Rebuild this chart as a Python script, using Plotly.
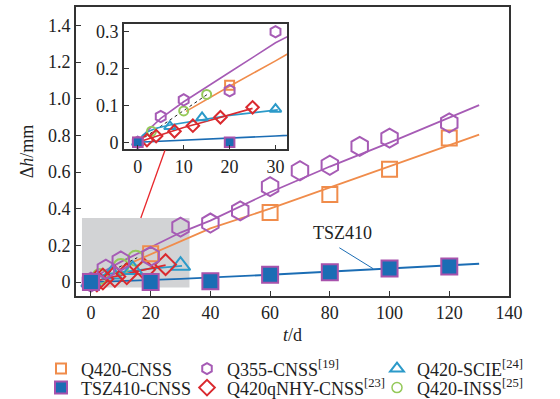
import plotly.graph_objects as go

# ---------------- data ----------------
# measured points
q420_t = [0, 20, 60, 80, 100, 120]
q420_dh = [0, 0.155, 0.38, 0.478, 0.615, 0.786]

q355_t = [0, 5, 10, 20, 30, 40, 50, 60, 70, 80, 90, 100, 120]
q355_dh = [0, 0.07, 0.115, 0.14, 0.3, 0.322, 0.388, 0.52, 0.607, 0.637, 0.74, 0.785, 0.868]

scie_t = [0, 7, 14, 30]
scie_dh = [0, 0.043, 0.067, 0.09]

tsz_t = [0, 20, 40, 60, 80, 100, 120]
tsz_dh = [0, 0, 0.005, 0.04, 0.054, 0.074, 0.085]

nhy_t = [2, 4, 8, 12, 18, 25]
nhy_dh = [0.006, 0.017, 0.03, 0.045, 0.068, 0.095]

inss_t = [3, 10, 15]
inss_dh = [0.03, 0.085, 0.13]

# fitted curves
q355_fit_t = [0, 2, 5, 10, 20, 30, 40, 60, 80, 100, 130]
q355_fit_dh = [0, 0.03, 0.065, 0.11, 0.19, 0.27, 0.335, 0.49, 0.63, 0.76, 0.965]

q420_fit_t = [10.5, 20, 30, 40, 60, 80, 100, 130]
q420_fit_dh = [0.084, 0.152, 0.221, 0.293, 0.40, 0.515, 0.631, 0.804]

scie_fit_t = [0, 1, 2, 4, 7, 14, 20, 30.5]
scie_fit_dh = [0, 0.018, 0.028, 0.038, 0.047, 0.062, 0.073, 0.088]

nhy_fit_t = [0, 5, 10, 15, 20, 25]
nhy_fit_dh = [0, 0.02, 0.04, 0.057, 0.074, 0.092]

tsz_fit_t = [0, 30, 60, 90, 130]
tsz_fit_dh = [0, 0.017, 0.04, 0.065, 0.1]

inss_fit_t = [0.5, 15.5]
inss_fit_dh = [0.005, 0.133]

x_ticks = [0, 20, 40, 60, 80, 100, 120, 140]
y_ticks = [0, 0.2, 0.4, 0.6, 0.8, 1.0, 1.2, 1.4]
y_ticktext = ["0", "0.2", "0.4", "0.6", "0.8", "1.0", "1.2", "1.4"]
x2_ticks = [0, 10, 20, 30]
y2_ticks = [0, 0.1, 0.2, 0.3]
y2_ticktext = ["0", "0.1", "0.2", "0.3"]

names = ["Q420-CNSS", "TSZ410-CNSS", "Q355-CNSS<sup>[19]</sup>",
         "Q420qNHY-CNSS<sup>[23]</sup>", "Q420-SCIE<sup>[24]</sup>", "Q420-INSS<sup>[25]</sup>"]

# ---------------- styles ----------------
ORANGE = "#F08C4B"
PURPLE = "#A65BB5"
RED = "#DA2A2F"
CYAN = "#2C9AC9"
BLUE = "#1B6DB4"
GREEN = "#95C95A"
TSZ_EDGE = "#A852AC"
AX = "#333333"
FONT = "Liberation Serif"
FS = 18
W, H = 560, 399

fig = go.Figure()


def add_set(xa, ya, big):
    s = 1.0 if big else 0.6
    lw = 1.8 if big else 1.6
    # fit lines
    fig.add_trace(go.Scatter(x=q355_fit_t, y=q355_fit_dh, mode="lines", line=dict(color=PURPLE, width=lw),
                             xaxis=xa, yaxis=ya, showlegend=False, hoverinfo="skip"))
    fig.add_trace(go.Scatter(x=q420_fit_t, y=q420_fit_dh, mode="lines", line=dict(color=ORANGE, width=lw),
                             xaxis=xa, yaxis=ya, showlegend=False, hoverinfo="skip"))
    fig.add_trace(go.Scatter(x=inss_fit_t, y=inss_fit_dh, mode="lines", line=dict(color="#222", width=1, dash="dot"),
                             xaxis=xa, yaxis=ya, showlegend=False, hoverinfo="skip"))
    fig.add_trace(go.Scatter(x=scie_fit_t, y=scie_fit_dh, mode="lines", line=dict(color=CYAN, width=lw),
                             xaxis=xa, yaxis=ya, showlegend=False, hoverinfo="skip"))
    fig.add_trace(go.Scatter(x=nhy_fit_t, y=nhy_fit_dh, mode="lines", line=dict(color=RED, width=lw),
                             xaxis=xa, yaxis=ya, showlegend=False, hoverinfo="skip"))
    fig.add_trace(go.Scatter(x=tsz_fit_t, y=tsz_fit_dh, mode="lines", line=dict(color=BLUE, width=lw),
                             xaxis=xa, yaxis=ya, showlegend=False, hoverinfo="skip"))
    # markers
    fig.add_trace(go.Scatter(x=inss_t, y=inss_dh, mode="markers",
                             marker=dict(symbol="circle-open", size=15 * s, color=GREEN, line=dict(width=2)),
                             xaxis=xa, yaxis=ya, showlegend=False))
    fig.add_trace(go.Scatter(x=scie_t, y=scie_dh, mode="markers",
                             marker=dict(symbol="triangle-up-open", size=17 * s, color=CYAN, line=dict(width=2)),
                             xaxis=xa, yaxis=ya, showlegend=False))
    fig.add_trace(go.Scatter(x=nhy_t, y=nhy_dh, mode="markers",
                             marker=dict(symbol="diamond-open", size=16 * s, color=RED, line=dict(width=2)),
                             xaxis=xa, yaxis=ya, showlegend=False))
    fig.add_trace(go.Scatter(x=q420_t, y=q420_dh, mode="markers",
                             marker=dict(symbol="square-open", size=15 * s, color=ORANGE, line=dict(width=2)),
                             xaxis=xa, yaxis=ya, showlegend=False))
    fig.add_trace(go.Scatter(x=q355_t, y=q355_dh, mode="markers",
                             marker=dict(symbol="hexagon-open", size=19 * s, color=PURPLE, line=dict(width=2)),
                             xaxis=xa, yaxis=ya, showlegend=False))
    fig.add_trace(go.Scatter(x=tsz_t, y=tsz_dh, mode="markers",
                             marker=dict(symbol="square", size=16 * s, color=BLUE,
                                         line=dict(width=2, color=TSZ_EDGE)),
                             xaxis=xa, yaxis=ya, showlegend=False))


add_set("x", "y", True)
add_set("x2", "y2", False)

# legend entries: one legend per entry, placed in a 3x2 grid
leg_styles = [
    dict(symbol="square-open", size=10, color=ORANGE, line=dict(width=2)),
    dict(symbol="square", size=12, color=BLUE, line=dict(width=2, color=TSZ_EDGE)),
    dict(symbol="hexagon-open", size=11, color=PURPLE, line=dict(width=2)),
    dict(symbol="diamond-open", size=12, color=RED, line=dict(width=2)),
    dict(symbol="triangle-up-open", size=12, color=CYAN, line=dict(width=2)),
    dict(symbol="circle-open", size=10, color=GREEN, line=dict(width=1.5)),
]
leg_ids = ["legend", "legend2", "legend3", "legend4", "legend5", "legend6"]
for nm, mk, lg in zip(names, leg_styles, leg_ids):
    fig.add_trace(go.Scatter(x=[None], y=[None], mode="markers", name=nm, marker=mk,
                             legend=lg, showlegend=True))

axis_common = dict(showline=True, mirror=True, linecolor=AX, linewidth=1.6, ticks="inside",
                   ticklen=5, tickwidth=1.3, tickcolor=AX, showgrid=False, zeroline=False,
                   automargin=False,
                   tickfont=dict(family=FONT, size=FS, color="#222"))

leg_common = dict(font=dict(family=FONT, size=FS, color="#222"), bgcolor="rgba(0,0,0,0)",
                  orientation="v", xanchor="left", yanchor="top", itemsizing="trace")

# pixel positions of the legend grid (marker centre x, row centre y)
col_px = [61, 207, 397]
row_px = [369, 388]
leg_layout = {}
for i, lg in enumerate(leg_ids):
    c, r = i // 2, i % 2
    leg_layout[lg] = dict(x=(col_px[c] - 20) / W, y=1 - (row_px[r] - 18.6) / H, **leg_common)

fig.update_layout(
    width=W, height=H,
    margin=dict(l=0, r=0, t=0, b=0, autoexpand=False),
    paper_bgcolor="white", plot_bgcolor="white",
    xaxis=dict(range=[-5, 140], tickvals=x_ticks, domain=[76 / W, 509 / W],
               title=dict(text="<i>t</i>/d", font=dict(family=FONT, size=FS, color="#222"), standoff=6),
               **axis_common),
    yaxis=dict(range=[-0.076, 1.5], tickvals=y_ticks, ticktext=y_ticktext,
               domain=[1 - 296 / H, 1 - 7 / H],
               title=dict(text="Δ<i>h</i>/mm", font=dict(family=FONT, size=FS, color="#222"), standoff=10),
               **axis_common),
    xaxis2=dict(range=[-3, 32.5], tickvals=x2_ticks, domain=[124 / W, 287 / W], anchor="y2",
                **axis_common),
    yaxis2=dict(range=[-0.019, 0.321], tickvals=y2_ticks, ticktext=y2_ticktext,
                domain=[1 - 149.3 / H, 1 - 24 / H], anchor="x2", **axis_common),
    shapes=[
        dict(type="rect", xref="x", yref="y", x0=-3, x1=33, y0=-0.03, y1=0.35,
             fillcolor="#D2D3D5", line=dict(width=0), layer="below"),
        dict(type="line", xref="x", yref="y", x0=16.7, y0=0.349, x1=24.8, y1=0.719,
             line=dict(color="#E8262B", width=1.3), layer="above"),
        dict(type="line", xref="x", yref="y", x0=83.2, y0=0.187, x1=94.5, y1=0.073,
             line=dict(color=BLUE, width=1), layer="above"),
    ],
    annotations=[
        dict(x=84.4, y=0.267, xref="x", yref="y", text="TSZ410", showarrow=False,
             font=dict(family=FONT, size=FS, color="#222")),
    ],
    **leg_layout,
)

fig.write_html("out.html", config={"displayModeBar": False},
               post_script="document.body.style.margin='0';document.body.style.overflow='hidden';")
